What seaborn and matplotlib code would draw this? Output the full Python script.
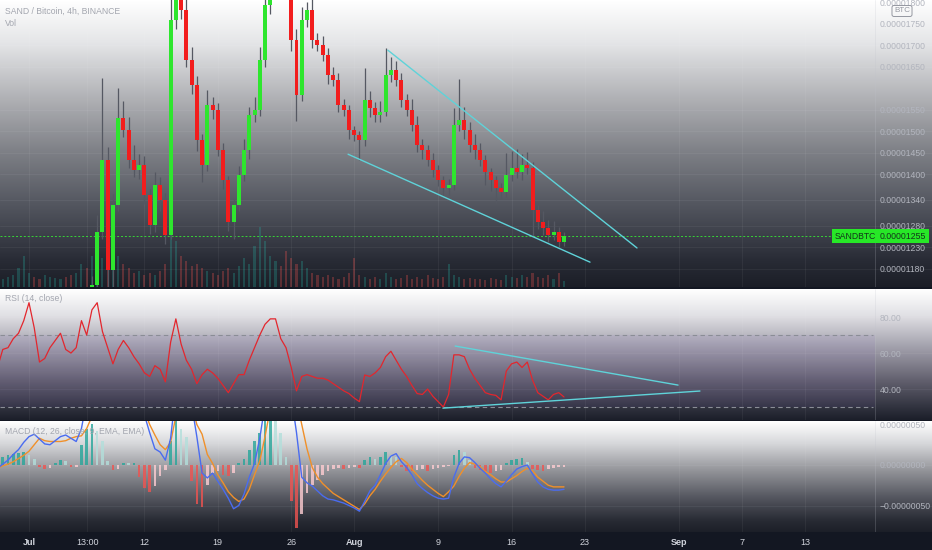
import numpy as np
import pandas as pd
import matplotlib
matplotlib.use('Agg')
import matplotlib.pyplot as plt
import matplotlib.dates as mdates
import matplotlib.transforms as mtrans
import seaborn as sns

# ---- data (prices in 1e-8 BTC, macd in 1e-8) ----
times = pd.date_range('2021-06-28 00:00', '2021-08-21 00:00', freq='12h')

closes = [1020, 1030, 1045, 1060, 1070, 1085, 1110, 1105, 1090, 1095,
          1100, 1105, 1110, 1100, 1098, 1102, 1115, 1110, 1142, 1265,
          1433, 1177, 1328, 1530, 1502, 1433, 1409, 1421, 1351, 1281,
          1374, 1340, 1258, 1758, 1851, 1781, 1665, 1607, 1479, 1421,
          1560, 1549, 1456, 1386, 1288, 1328, 1398, 1456, 1537, 1549,
          1665, 1793, 1874, 1898, 1874, 1828, 1712, 1584, 1758, 1781,
          1712, 1700, 1677, 1630, 1619, 1560, 1549, 1502, 1491, 1479,
          1572, 1553, 1537, 1544, 1630, 1642, 1619, 1572, 1549, 1514,
          1467, 1456, 1433, 1409, 1386, 1367, 1374, 1514, 1526, 1502,
          1467, 1456, 1433, 1405, 1386, 1367, 1358, 1398, 1414, 1405,
          1421, 1414, 1316, 1288, 1274, 1258, 1265, 1242, 1255]

wick_up = [10, 10, 10, 10, 10, 10, 10, 10, 10, 10,
           10, 10, 10, 10, 10, 10, 10, 10, 20, 40,
           190, 30, 25, 70, 40, 30, 35, 25, 20, 15,
           30, 20, 15, 60, 40, 30, 30, 30, 20, 15,
           35, 20, 15, 15, 10, 15, 20, 25, 20, 30,
           30, 30, 30, 30, 30, 30, 20, 25, 30, 20,
           25, 15, 20, 15, 20, 15, 15, 12, 10, 10,
           75, 20, 15, 25, 63, 30, 20, 15, 15, 25,
           20, 15, 12, 15, 12, 10, 15, 40, 95, 30,
           20, 25, 15, 12, 10, 10, 12, 50, 40, 45,
           25, 30, 15, 12, 25, 20, 25, 12, 10]

wick_dn = [10, 10, 10, 10, 10, 10, 10, 10, 10, 10,
           10, 10, 10, 10, 10, 10, 10, 10, 10, 15,
           15, 40, 40, 15, 15, 20, 15, 20, 20, 20,
           15, 25, 20, 10, 20, 20, 15, 20, 25, 40,
           15, 20, 15, 20, 20, 40, 15, 15, 20, 15,
           15, 15, 20, 20, 20, 20, 25, 60, 15, 15,
           20, 15, 15, 20, 15, 15, 15, 20, 15, 46,
           15, 20, 15, 15, 10, 15, 15, 15, 15, 15,
           15, 20, 15, 15, 15, 15, 15, 12, 15, 20,
           15, 20, 15, 30, 25, 35, 15, 12, 15, 15,
           20, 15, 60, 15, 15, 15, 12, 12, 10]

volume = [6, 8, 10, 12, 18, 30, 14, 10, 8, 12,
          10, 9, 8, 10, 12, 14, 22, 18, 30, 35,
          28, 20, 25, 30, 22, 18, 14, 16, 12, 14,
          12, 16, 22, 55, 45, 30, 25, 20, 22, 18,
          16, 14, 12, 16, 18, 14, 20, 28, 22, 40,
          58, 45, 30, 25, 20, 35, 28, 22, 25, 18,
          14, 12, 10, 12, 10, 8, 10, 14, 28, 12,
          10, 8, 10, 8, 14, 10, 8, 9, 12, 8,
          10, 8, 12, 9, 8, 10, 22, 12, 10, 8,
          9, 8, 8, 7, 9, 8, 7, 12, 10, 9,
          12, 10, 14, 10, 9, 12, 8, 14, 6]

rsi = [52, 62, 63, 68, 71, 78, 88, 74, 55, 57,
       63, 67, 71, 62, 60, 63, 78, 70, 84, 88,
       72, 63, 54, 62, 67, 63, 58, 54, 49, 47,
       53, 51, 44, 66, 79, 65, 56, 51, 43, 48,
       51, 49, 46, 42, 38, 43, 48, 48, 56, 63,
       70, 76, 79, 79, 68, 63, 52, 39, 47, 48,
       47, 46, 46, 45, 43, 41, 39, 37.5, 35, 33,
       47.8, 47, 49, 52, 58, 61, 56, 51, 47, 42,
       37.5, 37, 40, 36, 33, 30, 37, 59, 59, 58,
       51, 46, 42, 38, 37, 36.5, 34, 50, 54, 55,
       52, 55, 45, 38, 36, 34, 37, 38, 35.6]

macd = [-4, 1, 6, 13, 19, 28, 35, 38, 32, 26,
        25, 30, 35, 37, 33, 29, 45, 80, 100, 130,
        140, 120, 115, 130, 125, 115, 100, 85, 62, 40,
        20, 16, 6, 33, 90, 120, 110, 75, 35, -10,
        -16, -10, -20, -30, -41, -54, -50, -36, -15, 2,
        33, 75, 110, 140, 150, 130, 85, 40, -15, -22,
        -26, -32, -38, -42, -43, -45, -47, -50, -53, -57,
        -45, -32, -25, -12, 2, 11, 14, 4, -3, -12,
        -23, -29, -34, -38, -41, -42, -41, -15, 2, 10,
        9, 3, -4, -10, -17, -23, -27, -20, -12, -5,
        -2, 0, -11, -21, -27, -30, -31, -31, -30]

signal = [-4, -1, 1, 4, 8, 12, 17, 25, 33, 30,
          29, 29, 29, 30, 33, 35, 36, 45, 60, 80,
          95, 105, 110, 115, 115, 110, 100, 85, 68, 50,
          37, 25, 19, 28, 60, 80, 85, 75, 50, 38,
          13, 2, -12, -22, -33, -40, -45, -42, -30, -12,
          5, 35, 70, 100, 120, 115, 90, 80, 50, 20,
          -3, -15, -23, -29, -35, -39, -43, -47, -51, -55,
          -48, -38, -30, -20, -11, -3, 4, 8, 3, -5,
          -12, -19, -25, -30, -35, -39, -33, -26, -14, -4,
          3, 1, -2, -8, -12, -17, -21, -21, -17, -13,
          -8, -4, -7, -15, -20, -25, -27, -27, -27]

hist = [5, 10, 12, 14, 15, 16, 12, 8, -3, -5,
        -4, 3, 6, 5, -3, -2, 25, 45, 50, 42,
        30, 5, -6, -5, 3, 2, 3, -15, -28, -33,
        -26, -14, -6, 30, 60, 45, 35, -20, -48, -52,
        -25, -10, -8, -12, -14, -10, 3, 8, 18, 30,
        40, 60, 60, 55, 40, 10, -45, -78, -60, -35,
        -25, -18, -12, -8, -5, -4, -5, -4, -3, -4,
        6, 10, 8, 10, 16, 12, 10, -3, -7, -8,
        -6, -5, -7, -5, -4, -3, -1, 12, 18, 16,
        6, -4, -6, -8, -10, -8, -6, 2, 6, 8,
        9, 4, -5, -6, -7, -5, -4, -3, -2]

# drawn trendlines (time, value)
wedge_top = (['2021-08-04 05:00', '2021-08-27 23:00'], [1688, 1228])
wedge_bot = (['2021-07-31 10:00', '2021-08-23 11:30'], [1446, 1195])
rsi_top = (['2021-08-10 15:00', '2021-08-31 21:00'], [63.9, 42.2])
rsi_bot = (['2021-08-09 11:00', '2021-09-02 23:00'], [29.4, 38.9])

price_ticks = [1180, 1230, 1280, 1340, 1400, 1450, 1500, 1550, 1650, 1700, 1750, 1800]
rsi_ticks = [40, 60, 80]
macd_ticks = [-50, 0, 50]
x_tick_dates = ['2021-07-01 00:00', '2021-07-06 13:00', '2021-07-12 00:00', '2021-07-19 00:00',
                '2021-07-26 00:00', '2021-08-01 00:00', '2021-08-09 00:00', '2021-08-16 00:00',
                '2021-08-23 00:00', '2021-09-01 00:00', '2021-09-07 00:00', '2021-09-13 00:00']
x_tick_labels = ['Jul', '13:00', '12', '19', '26', 'Aug', '9', '16', '23', 'Sep', '7', '13']

# ---- style ----
sns.set_theme(style='dark')
plt.rcParams['font.family'] = ['Liberation Sans', 'DejaVu Sans']
LBL = '#b2b5be'
UP, DOWN, WICK = '#2ee62e', '#f21d1d', '#555862'
CYAN = '#5fd3d9'

t = mdates.date2num(times)
opens = [closes[0]] + closes[:-1]
df = pd.DataFrame({'t': t, 'open': opens, 'close': closes,
                   'wu': wick_up, 'wd': wick_dn, 'vol': volume,
                   'rsi': rsi, 'macd': macd, 'signal': signal, 'hist': hist})
df['top'] = df[['open', 'close']].max(axis=1)
df['bot'] = df[['open', 'close']].min(axis=1)
df['high'] = df['top'] + df['wu']
df['low'] = df['bot'] - df['wd']
df['up'] = df['close'] >= df['open']

xlim = mdates.date2num([pd.Timestamp('2021-06-28 05:40'), pd.Timestamp('2021-09-25 01:55')])

def tdates(lst):
    return mdates.date2num(pd.to_datetime(lst, format='%Y-%m-%d %H:%M'))

xt = tdates(x_tick_dates)

fig = plt.figure(figsize=(9.32, 5.5), dpi=100, facecolor='#131722')
H = 550.0

# background gradient, one per pane
def grad(stops, n):
    pos = [s[0] for s in stops]
    cols = np.array([s[1] for s in stops], dtype=float) / 255
    y = np.linspace(0, 1, n)
    return np.stack([np.interp(y, pos, cols[:, k]) for k in range(3)], axis=1)

dark = [(0, (19, 23, 34)), (1, (19, 23, 34))]
main_g = [(0, (255, 255, 255)), (0.15, (228, 229, 231)), (0.35, (174, 175, 179)),
          (0.52, (128, 130, 136)), (0.70, (86, 89, 98)), (0.83, (58, 61, 71)),
          (0.91, (40, 43, 53)), (1, (27, 30, 39))]
rsi_g = [(0, (255, 255, 255)), (0.2, (224, 224, 228)), (0.45, (160, 158, 170)),
         (0.7, (98, 96, 110)), (0.9, (50, 52, 64)), (1, (28, 31, 42))]
macd_g = [(0, (255, 255, 255)), (0.2, (214, 215, 218)), (0.45, (146, 147, 152)),
          (0.7, (82, 84, 93)), (0.9, (40, 43, 52)), (1, (28, 31, 40))]
img = np.vstack([grad(main_g, 287), grad(dark, 2), grad(rsi_g, 131), grad(dark, 1),
                 grad(macd_g, 111), grad(dark, 18)])
bg = fig.add_axes([0, 0, 1, 1])
bg.set_zorder(-10)
bg.imshow(np.repeat(img[:, None, :], 2, axis=1), aspect='auto', extent=(0, 1, 0, 1))
bg.axis('off')

def pane(top, bottom):
    a = fig.add_axes([0, 1 - bottom / H, 1, (bottom - top) / H])
    a.set_facecolor('none')
    for s in a.spines.values():
        s.set_visible(False)
    return a

ax = pane(0, 287)
rax = pane(289, 420)
max_ = pane(421, 532)

AXIS_X = 875 / 932.0

# ---- main pane: candles + volume ----
vax = ax.twinx()
vax.set_facecolor('none')
for s in vax.spines.values():
    s.set_visible(False)
vcol = np.where(df['up'], '#26a69a', '#ef5350')
vax.bar(df['t'], df['vol'], width=0.2, color=vcol, alpha=0.3, linewidth=0)
vax.set_ylim(0, max(volume) * 4.8)
vax.set_yticks([])
ax.set_zorder(3)
vax.set_zorder(2)

ax.vlines(df['t'], df['low'], df['high'], color=WICK, lw=0.9, zorder=3)
ccol = np.where(df['up'], UP, DOWN)
ax.bar(df['t'], (df['top'] - df['bot']).clip(lower=3), bottom=df['bot'], width=0.38,
       color=ccol, linewidth=0, zorder=4)

for tl in (wedge_top, wedge_bot):
    ax.plot(tdates(tl[0]), tl[1], color=CYAN, lw=1.0, zorder=5)

last = closes[-1]
ax.axhline(last, xmin=0, xmax=AXIS_X, color='#37d437', lw=0.7, ls=(0, (2, 2)), zorder=2)
tr = mtrans.blended_transform_factory(ax.transAxes, ax.transData)
ax.text(835 / 932, last, 'SANDBTC', transform=tr, ha='left', va='center', fontsize=6.2,
        color='#13361a', bbox=dict(boxstyle='square,pad=0.3', fc='#27e827', ec='none'), zorder=6)
ax.text(880 / 932, last, f'{last * 1e-8:.8f}', transform=tr, ha='left', va='center', fontsize=6.3,
        color='#13361a', bbox=dict(boxstyle='square,pad=0.3', fc='#27e827', ec='none'), zorder=6)

ax.set_ylim(1137.2, 1804.7)
ax.set_yticks(price_ticks)
ax.set_yticklabels([f'{v * 1e-8:.8f}' for v in price_ticks])

ax.text(5 / 932, 1 - 11 / 287, 'SAND / Bitcoin, 4h, BINANCE', transform=ax.transAxes,
        fontsize=6.2, color='#a3a6af', va='center')
ax.text(5 / 932, 1 - 23 / 287, 'Vol', transform=ax.transAxes, fontsize=6.2,
        color='#a3a6af', va='center')
ax.text(902 / 932, 1 - 11 / 287, 'BTC', transform=ax.transAxes, fontsize=5.8, color='#9598a1',
        ha='center', va='center',
        bbox=dict(boxstyle='round,pad=0.25', fc='none', ec='#9598a1', lw=0.7))

# ---- RSI pane ----
rax.axhspan(30, 70, xmax=AXIS_X, color='#7e57c2', alpha=0.08, lw=0)
for lvl in (70, 30):
    rax.axhline(lvl, xmax=873 / 932, color='#8a8d96', lw=0.8, ls=(0, (4, 3)))
sns.lineplot(data=df, x='t', y='rsi', ax=rax, color='#e3262d', linewidth=0.9)
for tl in (rsi_top, rsi_bot):
    rax.plot(tdates(tl[0]), tl[1], color=CYAN, lw=1.0)
rax.set_ylim(22.8, 95.6)
rax.set_yticks(rsi_ticks)
rax.set_yticklabels([f'{v:.2f}' for v in rsi_ticks])
rax.text(5 / 932, 1 - 9 / 131, 'RSI (14, close)', transform=rax.transAxes, fontsize=6.2,
         color='#a3a6af', va='center')

# ---- MACD pane ----
hcol = []
prev = 0
for h in hist:
    if h >= 0:
        hcol.append('#26a69a' if h >= prev else '#b2dfdb')
    else:
        hcol.append('#ffcdd2' if h >= prev else '#ef5350')
    prev = h
max_.bar(df['t'], df['hist'], width=0.25, color=hcol, alpha=0.8, linewidth=0)
sns.lineplot(data=df, x='t', y='signal', ax=max_, color='#f0902a', linewidth=1.0)
sns.lineplot(data=df, x='t', y='macd', ax=max_, color='#4a6cf0', linewidth=1.0)
max_.set_ylim(-82.7, 54.3)
max_.set_yticks(macd_ticks)
max_.set_yticklabels(['\u22120.00000050', '0.00000000', '0.00000050'])
max_.text(5 / 932, 1 - 10 / 111, 'MACD (12, 26, close, 9, EMA, EMA)', transform=max_.transAxes,
          fontsize=6.2, color='#a3a6af', va='center')

# ---- shared axis styling ----
for a in (ax, rax, max_):
    a.set_xlim(*xlim)
    a.set_xlabel('')
    a.set_ylabel('')
    a.set_xticks(xt)
    a.yaxis.tick_right()
    a.tick_params(axis='y', length=0, pad=-37.5, labelsize=6.2, labelcolor=LBL)
    a.tick_params(axis='x', length=0)
    a.grid(True, color='#ffffff', alpha=0.06, lw=0.6)
    a.plot([AXIS_X, AXIS_X], [0, 1], transform=a.transAxes, color='#c0c3cc', alpha=0.25, lw=0.6)
    if a is not max_:
        a.set_xticklabels([])

max_.set_xticklabels(x_tick_labels)
max_.tick_params(axis='x', pad=4, labelsize=6.5, labelcolor='#d1d4dc')
for lab, txt in zip(max_.get_xticklabels(), x_tick_labels):
    if txt in ('Jul', 'Aug', 'Sep'):
        lab.set_fontweight('bold')

fig.savefig('out.png', dpi=100, facecolor=fig.get_facecolor())
